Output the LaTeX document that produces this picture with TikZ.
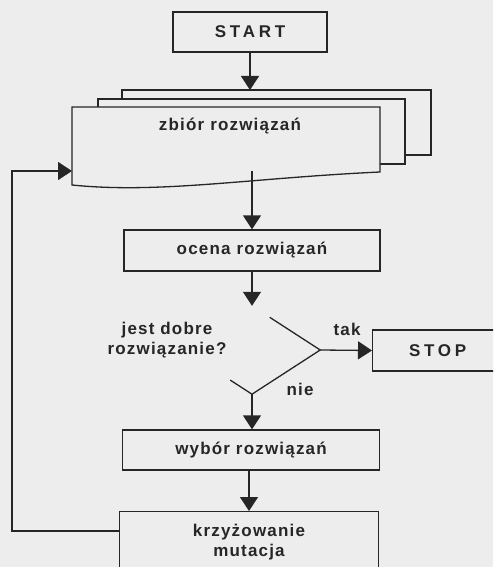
\documentclass[tikz,border=0pt]{standalone}
\usepackage{fontspec}
\usetikzlibrary{arrows.meta,calc}
\setmainfont{Liberation Sans}
\newfontfamily\flowfont[LetterSpace=7]{Liberation Sans}
\newfontfamily\capsfont[LetterSpace=22]{Liberation Sans}
\definecolor{paper}{HTML}{EDEDED}
\definecolor{ink}{HTML}{262626}
\tikzset{
  box/.style={draw=ink,fill=paper,line width=1.3pt,inner sep=0pt,align=center,
    font=\flowfont\bfseries\fontsize{17}{20}\selectfont,text=ink},
  label/.style={inner sep=0pt,align=center,
    font=\flowfont\bfseries\fontsize{17}{20}\selectfont,text=ink},
  arr/.style={draw=ink,line width=1.3pt,-{Triangle[length=14pt,width=18pt]}},
  edge/.style={draw=ink,line width=1.3pt}
}

\begin{document}
\begin{tikzpicture}[x=1pt,y=-1pt]
\useasboundingbox[fill=paper] (0,0) rectangle (493,567);
\clip (0,0) rectangle (493,567);
% start i zbior rozwiazan
\node[box,minimum width=154pt,minimum height=40pt,font=\capsfont\bfseries\fontsize{17}{20}\selectfont] (start) at (250,32) {START};
\draw[edge,fill=paper] (122,90) rectangle (431,155);
\draw[edge,fill=paper] (98,99) rectangle (405,164);
\draw[edge,fill=paper] (72,107) -- (380,107) -- (380,172)
  .. controls (250,178) and (160,194) .. (72,185) -- cycle;
\node[label] (zbior) at (230,126) {zbiór rozwiązań};
\coordinate (docin) at (250,90);
\coordinate (docout) at (252,171);
\coordinate (docleft) at (72,171);
% ocena i decyzja
\node[box,minimum width=256pt,minimum height=41pt] (ocena) at (252,250.5) {ocena rozwiązań};
\node[minimum width=136pt,minimum height=88pt,inner sep=0pt] (dec) at (252,350) {};
\draw[edge] ($(dec.north)!0.26!(dec.east)$) -- (dec.east) -- (dec.south)
  -- ($(dec.south)!0.32!(dec.west)$);
\node[label] (pytanie) at (167,340) {jest dobre\\rozwiązanie?};
\node[label] (tak) at (347,329) {tak};
\node[label] (nie) at (300,389) {nie};
\node[box,minimum width=130pt,minimum height=41pt,anchor=west,font=\capsfont\bfseries\fontsize{17}{20}\selectfont] (stop) at (372,350.5) {STOP};
% wybor i krzyzowanie
\node[box,minimum width=257pt,minimum height=40pt] (wybor) at (251,450) {wybór rozwiązań};
\node[box,minimum width=259pt,minimum height=61pt,anchor=north] (krzyz) at (249,511) {krzyżowanie\\mutacja};
% polaczenia
\draw[arr] (start.south) -- (docin);
\draw[arr] (docout) -- (ocena.north);
\draw[arr] (ocena.south) -- (dec.north);
\draw[arr] (dec.east) -- (stop.west);
\draw[arr] (dec.south) -- (dec.south |- wybor.north);
\draw[arr] (wybor.south -| krzyz.north) -- (krzyz.north);
\draw[arr] (krzyz.west |- 0,531) -- (12,531) |- (docleft);
\end{tikzpicture}
\end{document}
